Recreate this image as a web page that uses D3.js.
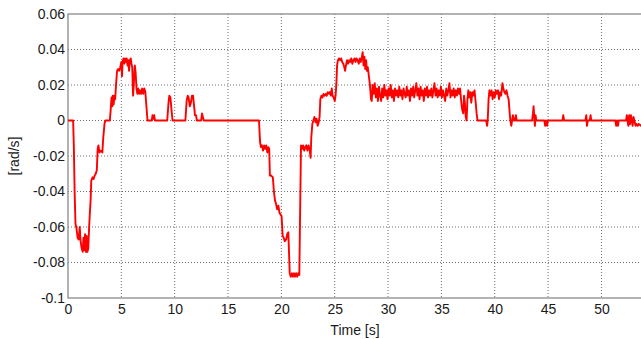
<!DOCTYPE html>
<html>
<head>
<meta charset="utf-8">
<script src="https://cdn.jsdelivr.net/npm/d3@7"></script>
<style>
  body { margin: 0; background: #fff; }
  svg text { font-family: "Liberation Sans", Arial, sans-serif; fill: #1a1a1a; }
</style>
</head>
<body>
<div id="chart"></div>
<script>
// time axis [s] and yaw rate [rad/s]
const timeS = [
  0, 0.48, 0.55, 0.62, 0.7, 0.8, 0.9, 1.0, 1.1, 1.18, 1.28, 1.38, 1.45, 1.52, 1.6, 1.68, 1.75, 1.82, 1.9, 1.98,
  2.05, 2.12, 2.18, 2.3, 2.4, 2.5, 2.6, 2.7, 2.78, 2.85, 2.95, 3.1, 3.22, 3.3, 3.42, 3.5, 3.92,
  4.0, 4.08, 4.15, 4.2, 4.28, 4.35, 4.42, 4.5, 4.6, 4.7, 4.8, 4.9, 5.0, 5.06, 5.12, 5.2, 5.28, 5.35, 5.42, 5.5,
  5.58, 5.65, 5.72, 5.8, 5.88, 5.95, 6.02, 6.1, 6.18, 6.26, 6.34, 6.42, 6.5, 6.58, 6.66, 6.75, 6.85, 6.95, 7.05,
  7.15, 7.25, 7.35, 7.45, 7.85, 7.92, 8.0, 8.08, 8.15, 8.22,
  9.3, 9.42, 9.5, 9.6, 9.7, 9.8, 11.0, 11.12, 11.22, 11.3, 11.42, 11.52, 11.62, 11.72, 11.82, 11.9, 12.0, 12.08,
  12.48, 12.56, 12.64, 12.72, 17.9,
  18.0, 18.08, 18.18, 18.28, 18.38, 18.48, 18.58, 18.68, 18.78, 18.86, 18.92, 19.05, 19.2, 19.3, 19.4, 19.5, 19.6,
  19.72, 19.82, 19.92, 20.02, 20.12, 20.22, 20.32, 20.45, 20.55, 20.65, 20.72, 20.78, 20.88, 20.98, 21.08, 21.18,
  21.28, 21.38, 21.48, 21.58, 21.68, 21.76, 21.84, 21.94, 22.04, 22.14, 22.24, 22.34, 22.44, 22.54, 22.64, 22.74,
  22.8, 22.9, 23.0,
  23.1, 23.2, 23.3, 23.4, 23.5, 23.58, 23.65, 23.75, 23.85, 23.95, 24.05, 24.15, 24.25, 24.35, 24.45, 24.55, 24.65,
  24.72, 24.8, 24.9, 25.0, 25.08, 25.15, 25.22, 25.3, 25.4, 25.5, 25.6, 25.7, 25.8, 25.9, 25.97, 26.05, 26.15, 26.25,
  26.35, 26.45, 26.55, 26.65, 26.75, 26.85, 26.95, 27.05, 27.15, 27.25, 27.35, 27.45, 27.55, 27.62, 27.7, 27.78,
  27.86, 27.94, 28.02, 28.1, 28.2, 28.3, 28.4, 28.47, 28.55, 28.65, 28.75, 28.85, 28.95,
  29.05, 29.15, 29.25, 29.35, 29.45, 29.55, 29.65, 29.75, 29.85, 29.95, 30.05, 30.15, 30.25, 30.35, 30.45, 30.55,
  30.65, 30.75, 30.85, 30.95, 31.05, 31.15, 31.25, 31.35, 31.45, 31.55, 31.65, 31.75, 31.85, 31.95, 32.05, 32.15,
  32.25, 32.35, 32.45, 32.55, 32.65, 32.75, 32.85, 32.95, 33.05, 33.15, 33.25, 33.35, 33.45, 33.55, 33.65, 33.75,
  33.85, 33.95, 34.05, 34.15, 34.25, 34.35, 34.45, 34.55, 34.65, 34.75, 34.85, 34.95, 35.05, 35.15, 35.25, 35.35,
  35.45, 35.55, 35.65, 35.75, 35.85, 35.95, 36.05, 36.15, 36.25, 36.35, 36.45, 36.55, 36.65, 36.75, 36.85,
  36.95, 37.05, 37.12, 37.2, 37.28, 37.36, 37.44, 37.52, 37.6, 37.7, 37.8, 37.9, 38.0, 38.1, 38.2, 38.3, 38.38,
  39.2, 39.28, 39.34, 39.42, 39.5, 39.6, 39.7, 39.8, 39.9, 40.0, 40.1, 40.2, 40.3, 40.4, 40.5, 40.6, 40.72, 40.8,
  40.9, 41.0, 41.1, 41.2, 41.3, 41.4, 41.46, 41.55, 41.62, 41.7, 41.78, 41.9, 41.98, 42.05,
  43.5, 43.58, 43.64, 43.7, 43.76, 43.82, 43.9, 44.65, 44.72, 44.8, 44.9, 44.98, 46.35, 46.42, 46.5,
  48.5, 48.58, 48.64, 48.72, 48.9, 48.98, 49.04, 51.3, 51.38, 51.45, 51.55, 51.62,
  52.3, 52.38, 52.44, 52.52, 52.6, 52.68, 52.76, 52.84, 52.92, 53.0, 53.08, 53.2, 53.3, 53.4, 53.5, 53.7, 53.8
];
const rateRad = [
  0, 0, -0.015, -0.04, -0.058, -0.061, -0.066, -0.067, -0.06, -0.068, -0.072, -0.074, -0.066, -0.073, -0.064, -0.074, -0.065, -0.074, -0.072, -0.06,
  -0.052, -0.045, -0.034, -0.032, -0.033, -0.031, -0.03, -0.028, -0.016, -0.014, -0.018, -0.017, -0.018, -0.01, -0.002, 0, 0,
  0.006, 0.013, 0.008, 0.014, 0.009, 0.014, 0.012, 0.02, 0.028, 0.029, 0.028, 0.03, 0.033, 0.025, 0.033, 0.035, 0.032, 0.035, 0.033, 0.035,
  0.031, 0.034, 0.028, 0.034, 0.035, 0.032, 0.03, 0.014, 0.022, 0.031, 0.027, 0.018, 0.015, 0.018, 0.015, 0.017, 0.015, 0.018, 0.015,
  0.018, 0.016, 0.008, 0, 0, 0.003, 0.001, 0.003, 0, 0,
  0, 0.01, 0.014, 0.013, 0.006, 0, 0, 0.011, 0.014, 0.013, 0.008, 0.01, 0.014, 0.014, 0.008, 0.003, 0.003, 0,
  0, 0.004, 0.002, 0, 0,
  -0.012, -0.015, -0.014, -0.017, -0.014, -0.016, -0.014, -0.018, -0.015, -0.016, -0.031, -0.031, -0.032, -0.04, -0.045, -0.047, -0.05,
  -0.048, -0.052, -0.053, -0.054, -0.065, -0.066, -0.068, -0.067, -0.064, -0.063, -0.075, -0.086, -0.088, -0.086, -0.088, -0.086,
  -0.088, -0.086, -0.088, -0.086, -0.087, -0.05, -0.014, -0.016, -0.014, -0.017, -0.015, -0.014, -0.017, -0.014, -0.016, -0.021,
  -0.01, -0.002, 0,
  0.002, -0.001, 0.001, -0.003, -0.001, 0.002, 0.012, 0.014, 0.013, 0.015, 0.014, 0.015, 0.014, 0.016, 0.015, 0.016, 0.014,
  0.018, 0.014, 0.013, 0.011, 0.014, 0.02, 0.031, 0.034, 0.035, 0.034, 0.035, 0.033, 0.032, 0.03, 0.028, 0.031, 0.034, 0.032,
  0.034, 0.033, 0.035, 0.032, 0.034, 0.035, 0.033, 0.035, 0.034, 0.032, 0.035, 0.033, 0.036, 0.0385, 0.031, 0.036,
  0.029, 0.034, 0.028, 0.03, 0.025, 0.02, 0.012, 0.011, 0.02, 0.015, 0.021, 0.013, 0.018,
  0.011, 0.019, 0.014, 0.011, 0.018, 0.013, 0.02, 0.014, 0.017, 0.012, 0.018, 0.014, 0.02, 0.013, 0.017, 0.011,
  0.018, 0.014, 0.017, 0.013, 0.019, 0.014, 0.017, 0.012, 0.018, 0.015, 0.013, 0.019, 0.014, 0.017, 0.011, 0.018,
  0.014, 0.019, 0.013, 0.017, 0.021, 0.014, 0.018, 0.012, 0.019, 0.014, 0.017, 0.011, 0.018, 0.014, 0.019, 0.013,
  0.017, 0.014, 0.018, 0.013, 0.017, 0.021, 0.014, 0.018, 0.013, 0.017, 0.014, 0.019, 0.013, 0.017, 0.014, 0.011,
  0.018, 0.014, 0.017, 0.021, 0.013, 0.017, 0.014, 0.018, 0.013, 0.017, 0.014, 0.018, 0.015, 0.018, 0.011,
  0.006, 0.004, 0.014, 0.01, 0.002, 0, 0.012, 0.017, 0.013, 0.016, 0.01, 0.016, 0.014, 0.017, 0.011, 0.004, 0,
  0, -0.003, 0, 0.012, 0.017, 0.014, 0.017, 0.012, 0.016, 0.013, 0.017, 0.015, 0.017, 0.012, 0.016, 0.014, 0.021, 0.018,
  0.016, 0.015, 0.017, 0.014, 0.012, 0.004, 0, -0.003, 0, 0.003, 0, 0, 0.003, 0,
  0, 0.004, 0.008, 0.002, -0.003, 0.003, 0, 0, -0.003, 0, -0.003, 0, 0, 0.003, 0,
  0, 0.003, -0.003, 0, 0, 0.003, 0, 0, -0.003, 0, -0.003, 0,
  0, 0.003, 0, -0.003, 0.003, -0.002, 0.003, 0, -0.003, 0.002, 0, -0.003, -0.002, -0.003, -0.002, -0.003, -0.002
];
const xTicks = [0, 5, 10, 15, 20, 25, 30, 35, 40, 45, 50];
const yTicks = [0.06, 0.04, 0.02, 0, -0.02, -0.04, -0.06, -0.08, -0.1];
const yTickLabels = ['0.06', '0.04', '0.02', '0', '-0.02', '-0.04', '-0.06', '-0.08', '-0.1'];

const width = 641;
const height = 339;
const margin = { top: 14, right: -1, bottom: 41, left: 68 };
const plotW = width - margin.left - margin.right;
const plotH = height - margin.top - margin.bottom;

const svg = d3.select('#chart')
  .append('svg')
  .attr('width', width)
  .attr('height', height);

const x = d3.scaleLinear().domain([0, 53.8]).range([margin.left, margin.left + plotW]);
const y = d3.scaleLinear().domain([-0.1, 0.06]).range([margin.top + plotH, margin.top]);

// dotted grid
svg.append('g')
  .selectAll('line.gx')
  .data(xTicks.filter(d => d > 0))
  .enter().append('line')
  .attr('x1', d => x(d)).attr('x2', d => x(d))
  .attr('y1', margin.top).attr('y2', margin.top + plotH)
  .attr('stroke', '#6e6e6e')
  .attr('stroke-width', 1)
  .attr('stroke-dasharray', '1,2');

svg.append('g')
  .selectAll('line.gy')
  .data(yTicks.filter(d => d > -0.1 && d < 0.06))
  .enter().append('line')
  .attr('x1', margin.left).attr('x2', margin.left + plotW)
  .attr('y1', d => y(d)).attr('y2', d => y(d))
  .attr('stroke', '#6e6e6e')
  .attr('stroke-width', 1)
  .attr('stroke-dasharray', '1,2');

// frame
svg.append('rect')
  .attr('x', margin.left).attr('y', margin.top)
  .attr('width', plotW).attr('height', plotH)
  .attr('fill', 'none')
  .attr('stroke', '#8a8a8a')
  .attr('stroke-width', 1.3);

// axes
const xAxis = svg.append('g')
  .attr('transform', `translate(0, ${margin.top + plotH})`)
  .call(d3.axisBottom(x).tickValues(xTicks).tickSize(0).tickPadding(6).tickFormat(d3.format('d')));
xAxis.select('.domain').remove();
xAxis.selectAll('text').style('font-size', '14px').attr('fill', '#1a1a1a');

const yAxis = svg.append('g')
  .attr('transform', `translate(${margin.left}, 0)`)
  .call(d3.axisLeft(y).tickValues(yTicks).tickSize(0).tickPadding(3)
    .tickFormat((d, i) => yTickLabels[i]));
yAxis.select('.domain').remove();
yAxis.selectAll('text').style('font-size', '14px').attr('fill', '#1a1a1a');

// axis titles
svg.append('text')
  .attr('x', margin.left + plotW / 2)
  .attr('y', 335)
  .attr('text-anchor', 'middle')
  .style('font-size', '14px')
  .text('Time [s]');

svg.append('text')
  .attr('transform', `translate(19, ${margin.top + plotH / 2}) rotate(-90)`)
  .attr('text-anchor', 'middle')
  .style('font-size', '14px')
  .text('[rad/s]');

// signal
const pts = timeS.map((t, i) => [t, rateRad[i]]);
const line = d3.line()
  .x(d => x(d[0]))
  .y(d => y(d[1]));

svg.append('path')
  .datum(pts)
  .attr('fill', 'none')
  .attr('stroke', '#ff0000')
  .attr('stroke-width', 1.9)
  .attr('stroke-linejoin', 'round')
  .attr('d', line);
</script>
</body>
</html>
